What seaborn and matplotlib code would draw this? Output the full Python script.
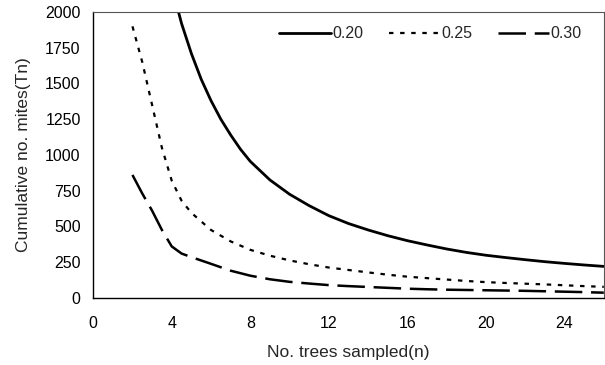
import seaborn as sns
import pandas as pd
from matplotlib import pyplot as plt

# Values
n_020 = [4, 4.5, 5, 5.5, 6, 6.5, 7, 7.5, 8, 9, 10, 11, 12, 13, 14, 15, 16, 17, 18, 19, 20,
         21, 22, 23, 24, 25, 26]
tn_020 = [2180, 1920, 1710, 1530, 1380, 1250, 1140, 1040, 955, 825, 725, 645, 575, 520, 475,
          435, 400, 370, 342, 318, 298, 282, 267, 253, 241, 230, 220]

n_025 = [2, 2.5, 3, 3.5, 4, 4.5, 5, 6, 7, 8, 9, 10, 11, 12, 13, 14, 15, 16, 17, 18, 19, 20,
         21, 22, 23, 24, 25, 26]
tn_025 = [1900, 1650, 1350, 1050, 820, 680, 595, 475, 395, 336, 295, 262, 235, 212, 195, 178,
          162, 148, 138, 128, 118, 110, 104, 99, 94, 88, 82, 77]

n_030 = [2, 2.5, 3, 3.5, 4, 4.5, 5, 6, 7, 8, 9, 10, 11, 12, 13, 14, 15, 16, 17, 18, 19, 20,
         21, 22, 23, 24, 25, 26]
tn_030 = [860, 730, 610, 475, 360, 310, 285, 238, 190, 155, 130, 112, 100, 89, 82, 76, 70, 64,
          60, 57, 55, 53, 51, 49, 46, 43, 40, 36]

series_labels = ['0.20', '0.25', '0.30']

sns.set_style("white")
plt.rcParams['font.family'] = ['Liberation Sans', 'DejaVu Sans']

fig = plt.figure(figsize=(6.05, 3.65), dpi=100)
ax = fig.add_axes([0.154, 0.184, 0.844, 0.783])

sns.lineplot(x=n_020, y=tn_020, ax=ax, color='black', lw=2.0, label=series_labels[0])
sns.lineplot(x=n_025, y=tn_025, ax=ax, color='black', lw=1.6, label=series_labels[1])
ax.lines[-1].set_linestyle((0, (2, 3)))
sns.lineplot(x=n_030, y=tn_030, ax=ax, color='black', lw=1.8, label=series_labels[2])
ax.lines[-1].set_linestyle((0, (11, 3.5)))

ax.set_xlim(0, 26)
ax.set_ylim(0, 2000)
ax.set_xticks(range(0, 25, 4))
ax.set_xticks(range(0, 27, 2), minor=True)
ax.set_yticks(range(0, 2001, 250))
ax.tick_params(axis='both', which='both', direction='in', length=4, width=0.8,
               labelsize=11.5, colors='black')
ax.tick_params(axis='x', which='major', pad=13)
ax.tick_params(axis='y', which='major', pad=9)

for side in ['left', 'bottom']:
    ax.spines[side].set_color('black')
    ax.spines[side].set_linewidth(1.0)
for side in ['top', 'right']:
    ax.spines[side].set_color('#555555')
    ax.spines[side].set_linewidth(0.8)

ax.set_xlabel('No. trees sampled(n)', fontsize=12.5, labelpad=10)
ax.set_ylabel('Cumulative no. mites(Tn)', fontsize=12.5, labelpad=10)

leg = ax.legend(loc='upper right', ncol=3, frameon=False, fontsize=11.5,
                handlelength=3.2, handletextpad=0.1, columnspacing=1.6,
                bbox_to_anchor=(0.985, 1.0))

fig.savefig('out.png', dpi=100)
